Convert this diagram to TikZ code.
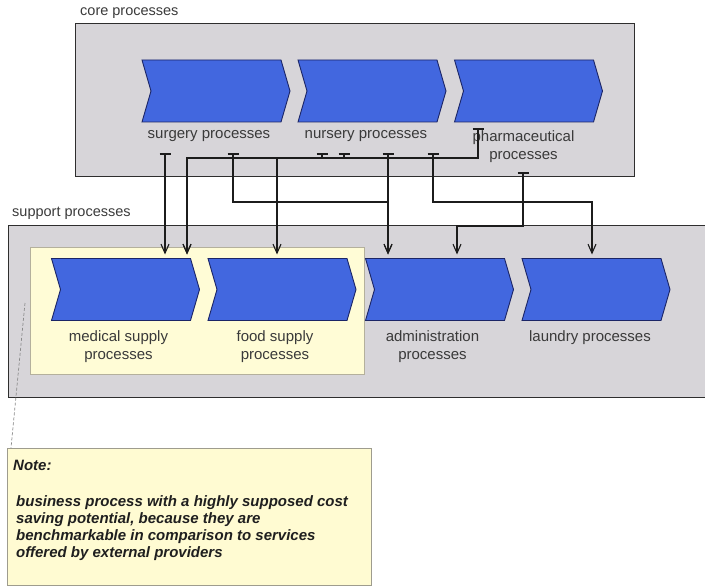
\documentclass[tikz,border=0pt]{standalone}
\usepackage{fontspec}
\setmainfont{Liberation Sans}
\usetikzlibrary{arrows.meta}

\definecolor{procblue}{HTML}{4267DF}
\definecolor{procedge}{HTML}{1B2566}
\definecolor{panelfill}{HTML}{D7D5D9}
\definecolor{paneledge}{HTML}{2E2E2E}
\definecolor{benchfill}{HTML}{FFFCD6}
\definecolor{benchedge}{HTML}{B4B09C}
\definecolor{notefill}{HTML}{FFFBD2}
\definecolor{noteedge}{HTML}{9E9C8E}
\definecolor{labelgray}{HTML}{3A3A3A}
\definecolor{wirecol}{HTML}{1C1C1C}
\definecolor{linkgray}{HTML}{8A8A8A}

% one chevron: name, centre x, centre y
\newcommand\chevron[3]{%
  \node[chevbox] (#1) at (#2,#3) {};
  \draw[chevdraw] (#1.north west) -- ([xshift=-9pt]#1.north east) -- (#1.east)
    -- ([xshift=-9pt]#1.south east) -- (#1.south west) -- ([xshift=9pt]#1.west) -- cycle;}

\begin{document}
\begin{tikzpicture}[x=1pt,y=-1pt,
  panelbox/.style={draw=paneledge, fill=panelfill, line width=1pt, inner sep=0pt, outer sep=0pt},
  benchbox/.style={draw=benchedge, fill=benchfill, line width=1pt, inner sep=0pt},
  notebox/.style={draw=noteedge, fill=notefill, line width=1.3pt, inner sep=0pt},
  chevbox/.style={minimum width=148pt, minimum height=62pt, inner sep=0pt, outer sep=0pt},
  chevdraw/.style={draw=procedge, fill=procblue, line width=0.9pt, line join=miter},
  grouplabel/.style={inner sep=0pt, text=labelgray, font=\fontsize{14.5}{17}\selectfont},
  proclabel/.style={inner sep=0pt, anchor=north, align=center, text=labelgray,
    font=\fontsize{15}{18.5}\selectfont},
  notetext/.style={inner sep=0pt, text=black!88, font=\fontsize{15}{17.2}\selectfont\bfseries\itshape},
  wire/.style={draw=wirecol, line width=1.1pt,
    {Bar[width=11pt,line width=1.6pt]}-{Straight Barb[length=9pt,width=8pt,line width=1.1pt]},
    shorten >=4pt},
  linkdash/.style={draw=linkgray, line width=0.7pt, dash pattern=on 3pt off 2pt}
]
\useasboundingbox (0,0) rectangle (705,586);

% ---- group panels ----
\node[grouplabel, anchor=west] (coreL) at (80,13) {core processes};
\node[panelbox, minimum width=559pt, minimum height=152pt, anchor=north west] (core) at (75,24) {};

\node[grouplabel, anchor=west] (suppL) at (12,213) {support processes};
\node[panelbox, minimum width=720pt, minimum height=172pt, anchor=north west] (support) at (8,225) {};
\node[benchbox, minimum width=334pt, minimum height=127pt, anchor=north west] (bench) at (30,247) {};

% ---- core processes ----
\chevron{surg}{216}{91}
\chevron{nurs}{372}{91}
\chevron{pharm}{528.5}{91}
\node[proclabel] (surgL) at ([xshift=-7pt,yshift=-8pt]surg.south) {surgery processes};
\node[proclabel] (nursL) at ([xshift=-6pt,yshift=-8pt]nurs.south) {nursery processes};
\node[proclabel] (pharmL) at ([xshift=-5pt,yshift=-8pt]pharm.south) {pharmaceutical\\processes};

% ---- support processes ----
\chevron{med}{125.5}{289.5}
\chevron{food}{282}{289.5}
\chevron{admin}{439.5}{289.5}
\chevron{laun}{596}{289.5}
\node[proclabel] (medL) at ([xshift=-7pt,yshift=-9.5pt]med.south) {medical supply\\processes};
\node[proclabel] (foodL) at ([xshift=-7pt,yshift=-9.5pt]food.south) {food supply\\processes};
\node[proclabel] (adminL) at ([xshift=-7pt,yshift=-9.5pt]admin.south) {administration\\processes};
\node[proclabel] (launL) at ([xshift=-6pt,yshift=-9.5pt]laun.south) {laundry processes};

% ---- connector start points ----
\coordinate (sA) at (165,153);
\coordinate (sB) at (233,153);
\coordinate (nA) at (322,153);
\coordinate (nB) at (344,153);
\coordinate (nC) at (388,153);
\coordinate (nD) at (433,153);
\coordinate (pA) at (478,128);
\coordinate (pB) at (523,172);

% ---- connectors ----
\draw[wire] (sA) -- (sA |- med.north);
\draw[wire] (pA) -- ++(0,30) -| ([xshift=61.5pt]med.north);
\draw[wire] (nB) -- ++(0,5) -| ([xshift=61.5pt]med.north);
\draw[wire] (nA) -- ++(0,5) -| ([xshift=-5pt]food.north);
\draw[wire] (sB) -- ++(0,49) -| ([xshift=-51.5pt]admin.north);
\draw[wire] (nC) -- (nC |- admin.north);
\draw[wire] (pB) -- ++(0,54) -| ([xshift=17.5pt]admin.north);
\draw[wire] (nD) -- ++(0,49) -| ([xshift=-4pt]laun.north);

% ---- note ----
\node[notebox, minimum width=364pt, minimum height=137pt, anchor=north west] (note) at (7,448) {};
\node[notetext, anchor=west] (noteHead) at (13,465) {Note:};
\node[notetext, anchor=north west, align=left] (noteBody) at (16,495)
  {business process with a highly supposed cost\\
   saving potential, because they are\\
   benchmarkable in comparison to services\\
   offered by external providers};
\draw[linkdash] ([xshift=-5pt,yshift=8pt]bench.west) -- ([xshift=4pt]note.north west);
\end{tikzpicture}
\end{document}
